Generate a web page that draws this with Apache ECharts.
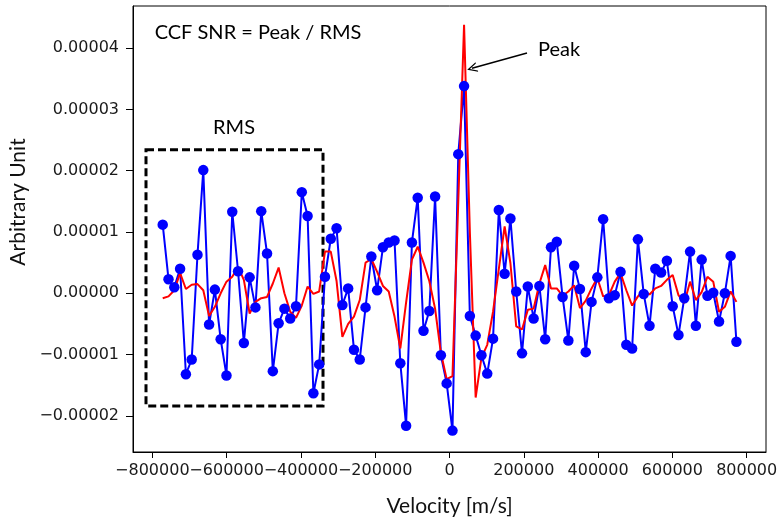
<!DOCTYPE html>
<html lang="en">

<head>
  <meta charset="UTF-8">
  <title>CCF SNR</title>
  <style>
    * {
      margin: 0;
      padding: 0;
    }
  </style>
  <script src="https://cdn.jsdelivr.net/npm/echarts@6/dist/echarts.min.js"></script>
</head>

<body>
  <div id="chart" style="width: 782px; height: 518px;"></div>
  <script>
    const myChart = echarts.init(document.getElementById('chart'))

    // velocity grid [m/s]
    const velocity = [
      -772000, -756400, -740800, -725200, -709600, -694000, -678400, -662800, -647200, -631600,
      -616000, -600400, -584800, -569200, -553600, -538000, -522400, -506800, -491200, -475600,
      -460000, -444400, -428800, -413200, -397600, -382000, -366400, -350800, -335200, -319600,
      -304000, -288400, -272800, -257200, -241600, -226000, -210400, -194800, -179200, -163600,
      -148000, -132400, -116800, -101200, -85600, -70000, -54400, -38800, -23200, -7600,
      8000, 23600, 39200, 54800, 70400, 86000, 101600, 117200, 132800, 148400,
      164000, 179600, 195200, 210800, 226400, 242000, 257600, 273200, 288800, 304400,
      320000, 335600, 351200, 366800, 382400, 398000, 413600, 429200, 444800, 460400,
      476000, 491600, 507200, 522800, 538400, 554000, 569600, 585200, 600800, 616400,
      632000, 647600, 663200, 678800, 694400, 710000, 725600, 741200, 756800, 772400
    ]

    // CCF (blue points)
    const ccf = [
      1.12e-5, 0.23e-5, 0.10e-5, 0.40e-5, -1.32e-5, -1.08e-5, 0.63e-5, 2.01e-5, -0.51e-5, 0.06e-5,
      -0.75e-5, -1.34e-5, 1.33e-5, 0.36e-5, -0.81e-5, 0.26e-5, -0.23e-5, 1.34e-5, 0.65e-5, -1.27e-5,
      -0.49e-5, -0.25e-5, -0.41e-5, -0.21e-5, 1.65e-5, 1.26e-5, -1.63e-5, -1.16e-5, 0.27e-5, 0.89e-5,
      1.06e-5, -0.19e-5, 0.08e-5, -0.92e-5, -1.08e-5, -0.23e-5, 0.60e-5, 0.05e-5, 0.75e-5, 0.83e-5,
      0.86e-5, -1.14e-5, -2.16e-5, 0.83e-5, 1.56e-5, -0.61e-5, -0.29e-5, 1.58e-5, -1.01e-5, -1.47e-5,
      -2.24e-5, 2.27e-5, 3.38e-5, -0.37e-5, -0.69e-5, -1.01e-5, -1.31e-5, -0.74e-5, 1.36e-5, 0.32e-5,
      1.22e-5, 0.03e-5, -0.98e-5, 0.11e-5, -0.41e-5, 0.12e-5, -0.75e-5, 0.75e-5, 0.84e-5, -0.06e-5,
      -0.77e-5, 0.45e-5, 0.07e-5, -0.96e-5, -0.14e-5, 0.26e-5, 1.21e-5, -0.08e-5, -0.03e-5, 0.35e-5,
      -0.84e-5, -0.90e-5, 0.88e-5, -0.01e-5, -0.53e-5, 0.40e-5, 0.34e-5, 0.53e-5, -0.21e-5, -0.68e-5,
      -0.08e-5, 0.68e-5, -0.53e-5, 0.55e-5, -0.04e-5, 0.01e-5, -0.46e-5, 0.00e-5, 0.61e-5, -0.79e-5
    ]

    // model / template CCF (red line)
    const model = [
      -0.08e-5, -0.05e-5, 0.05e-5, 0.33e-5, 0.07e-5, 0.14e-5, 0.15e-5, 0.05e-5, -0.37e-5, -0.22e-5,
      0.00e-5, 0.19e-5, 0.27e-5, 0.43e-5, 0.22e-5, -0.33e-5, -0.14e-5, -0.08e-5, -0.06e-5, 0.16e-5,
      0.42e-5, 0.00e-5, -0.30e-5, -0.40e-5, -0.20e-5, 0.11e-5, -0.01e-5, 0.03e-5, 0.68e-5, 0.68e-5,
      0.20e-5, -0.71e-5, -0.50e-5, -0.38e-5, -0.11e-5, 0.50e-5, 0.56e-5, 0.35e-5, 0.12e-5, 0.03e-5,
      -0.38e-5, -0.90e-5, -0.15e-5, 0.55e-5, 0.76e-5, 0.50e-5, 0.20e-5, -0.25e-5, -0.97e-5, -1.40e-5,
      -1.35e-5, 1.50e-5, 4.38e-5, 1.00e-5, -1.70e-5, -1.05e-5, -0.84e-5, -0.30e-5, 0.40e-5, 1.09e-5,
      0.49e-5, -0.54e-5, -0.59e-5, -0.27e-5, -0.25e-5, 0.16e-5, 0.46e-5, 0.08e-5, 0.08e-5, -0.04e-5,
      0.03e-5, 0.13e-5, -0.24e-5, -0.12e-5, 0.08e-5, 0.25e-5, -0.05e-5, -0.03e-5, 0.19e-5, 0.33e-5,
      0.05e-5, -0.20e-5, -0.05e-5, 0.05e-5, -0.02e-5, 0.08e-5, 0.12e-5, 0.22e-5, 0.30e-5, -0.03e-5,
      -0.16e-5, 0.19e-5, -0.11e-5, 0.02e-5, 0.27e-5, 0.19e-5, -0.30e-5, -0.22e-5, 0.03e-5, -0.14e-5
    ]

    const xTicks = [-800000, -600000, -400000, -200000, 0, 200000, 400000, 600000, 800000]
    const yTicks = [-0.00002, -0.00001, 0, 0.00001, 0.00002, 0.00003, 0.00004]

    // annotations (data coordinates)
    const rmsBox = [[-817000, 2.34e-5], [-340500, -1.84e-5]]
    const peakArrow = [[208600, 3.92e-5], [60600, 3.67e-5]]
    const notes = [
      { name: 'CCF SNR = Peak / RMS', coord: [-515500, 4.25e-5] },
      { name: 'RMS', coord: [-580000, 2.70e-5] },
      { name: 'Peak', coord: [295000, 3.97e-5] }
    ]

    const minus = s => s.replace('-', '\u2212')
    const tickFont = { fontFamily: 'DejaVu Sans', fontSize: 16, color: '#1a1a1a' }
    const noteFont = 'Lato'

    const option = {
      backgroundColor: '#fff',
      animation: false,
      grid: {
        left: 133, right: 16, top: 6, bottom: 66,
        containLabel: false,
        outerBoundsMode: 'none',
        show: true, borderColor: '#000', borderWidth: 1
      },
      xAxis: {
        type: 'value',
        min: -852000,
        max: 852000,
        name: 'Velocity [m/s]',
        nameLocation: 'middle',
        nameGap: 44,
        nameTextStyle: { fontFamily: noteFont, fontSize: 21, color: '#111' },
        splitLine: { show: false },
        axisLine: { onZero: false, lineStyle: { color: '#000' } },
        axisTick: { length: 6, lineStyle: { color: '#000' }, customValues: xTicks },
        axisLabel: {
          ...tickFont, margin: 11, customValues: xTicks,
          showMinLabel: true, showMaxLabel: true, hideOverlap: false,
          formatter: v => minus(String(v))
        }
      },
      yAxis: {
        type: 'value',
        min: -2.589e-5,
        max: 4.687e-5,
        name: 'Arbitrary Unit',
        nameLocation: 'middle',
        nameGap: 92,
        nameTextStyle: { fontFamily: noteFont, fontSize: 21, color: '#111', padding: [0, 0, 0, 54] },
        splitLine: { show: false },
        axisLine: { onZero: false, lineStyle: { color: '#000' } },
        axisTick: { length: 7, lineStyle: { color: '#000' }, customValues: yTicks },
        axisLabel: {
          ...tickFont, margin: 14, customValues: yTicks,
          showMinLabel: true, showMaxLabel: true,
          formatter: v => minus(v.toFixed(5))
        }
      },
      series: [
        {
          type: 'line',
          data: velocity.map((v, i) => [v, ccf[i]]),
          symbol: 'circle',
          symbolSize: 10.5,
          lineStyle: { color: '#0000ff', width: 2 },
          itemStyle: { color: '#0000ff' },
          markArea: {
            silent: true,
            itemStyle: { color: 'transparent', borderColor: '#000', borderWidth: 3, borderType: [8, 4] },
            data: [[{ coord: rmsBox[0] }, { coord: rmsBox[1] }]]
          },
          markLine: {
            silent: true,
            symbol: ['none', 'path://M0,10 L5,0 L10,10 L8.6,10 L5,2.8 L1.4,10 Z'],
            symbolSize: [10, 10],
            lineStyle: { color: '#000', width: 1.5, type: 'solid' },
            label: { show: false },
            data: [[{ coord: peakArrow[0] }, { coord: peakArrow[1] }]]
          },
          markPoint: {
            silent: true,
            symbol: 'circle',
            symbolSize: 0,
            label: {
              show: true, position: 'inside', formatter: '{b}',
              fontFamily: noteFont, fontSize: 20, color: '#000'
            },
            data: notes
          }
        },
        {
          type: 'line',
          data: velocity.map((v, i) => [v, model[i]]),
          symbol: 'none',
          lineStyle: { color: '#ff0000', width: 2 }
        }
      ]
    }

    myChart.setOption(option)
  </script>
</body>

</html>
